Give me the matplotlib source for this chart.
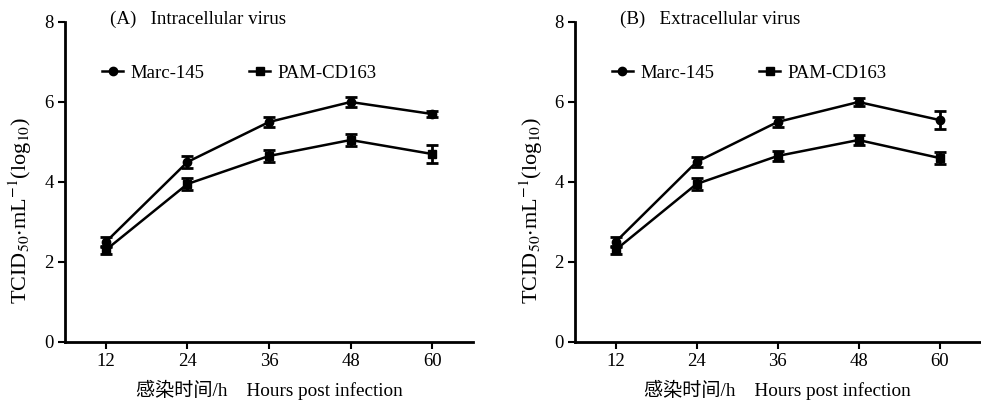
import matplotlib
matplotlib.use("Agg")
import matplotlib.pyplot as plt
from matplotlib.lines import Line2D

plt.rcParams['font.family'] = ['Liberation Serif', 'Noto Sans CJK SC']
plt.rcParams['mathtext.fontset'] = 'stix'

# hours post infection
hours = [12, 24, 36, 48, 60]

# (A) intracellular virus
a_marc = [2.5, 4.5, 5.5, 6.0, 5.7]
a_marc_err = [0.12, 0.15, 0.13, 0.12, 0.08]
a_pam = [2.3, 3.95, 4.65, 5.05, 4.7]
a_pam_err = [0.1, 0.15, 0.15, 0.15, 0.22]

# (B) extracellular virus
b_marc = [2.5, 4.5, 5.5, 6.0, 5.55]
b_marc_err = [0.12, 0.13, 0.12, 0.1, 0.22]
b_pam = [2.3, 3.95, 4.65, 5.05, 4.6]
b_pam_err = [0.1, 0.15, 0.13, 0.13, 0.15]

titles = ["(A)   Intracellular virus", "(B)   Extracellular virus"]
series_names = ["Marc-145", "PAM-CD163"]
xticklabels = ["12", "24", "36", "48", "60"]
yticks = [0, 2, 4, 6, 8]


def draw_panel(ax, marc, marc_err, pam, pam_err, title):
    ax.errorbar(hours, marc, yerr=marc_err, color='black', marker='o',
                markersize=6, lw=1.8, capsize=4, capthick=2, elinewidth=2)
    ax.errorbar(hours, pam, yerr=pam_err, color='black', marker='s',
                markersize=6, lw=1.8, capsize=4, capthick=2, elinewidth=2)
    ax.set_xlim(6, 66)
    ax.set_ylim(0, 8)
    ax.set_xticks(hours)
    ax.set_xticklabels(xticklabels)
    ax.set_yticks(yticks)
    for s in ['top', 'right']:
        ax.spines[s].set_visible(False)
    for s in ['left', 'bottom']:
        ax.spines[s].set_linewidth(2)
    ax.tick_params(direction='out', length=5, width=1.5, labelsize=13.5, pad=3)
    ax.text(12.6, 8.07, title, fontsize=13.7, va='center', ha='left')
    ax.set_xlabel("感染时间/h    Hours post infection", fontsize=13.8,
                  labelpad=7)
    ax.set_ylabel(r"TCID$_{50}$$\cdot$mL$^{-1}$(log$_{10}$)", fontsize=16)
    ax.yaxis.set_label_coords(-0.075, 0.41)
    handles = [
        Line2D([], [], color='black', lw=1.8, marker='o', markersize=6),
        Line2D([], [], color='black', lw=1.8, marker='s', markersize=6),
    ]
    ax.legend(handles, series_names, loc='upper left',
              bbox_to_anchor=(0.05, 0.92), ncol=2, frameon=False,
              fontsize=13.5, handlelength=1.1, handletextpad=0.4,
              columnspacing=2.4)


fig = plt.figure(figsize=(9.81, 4.01), dpi=100)
ax1 = fig.add_axes([65 / 981, 59 / 401, 408 / 981, 320 / 401])
ax2 = fig.add_axes([575 / 981, 59 / 401, 405 / 981, 320 / 401])

draw_panel(ax1, a_marc, a_marc_err, a_pam, a_pam_err, titles[0])
draw_panel(ax2, b_marc, b_marc_err, b_pam, b_pam_err, titles[1])

fig.savefig("out.png", dpi=100)
